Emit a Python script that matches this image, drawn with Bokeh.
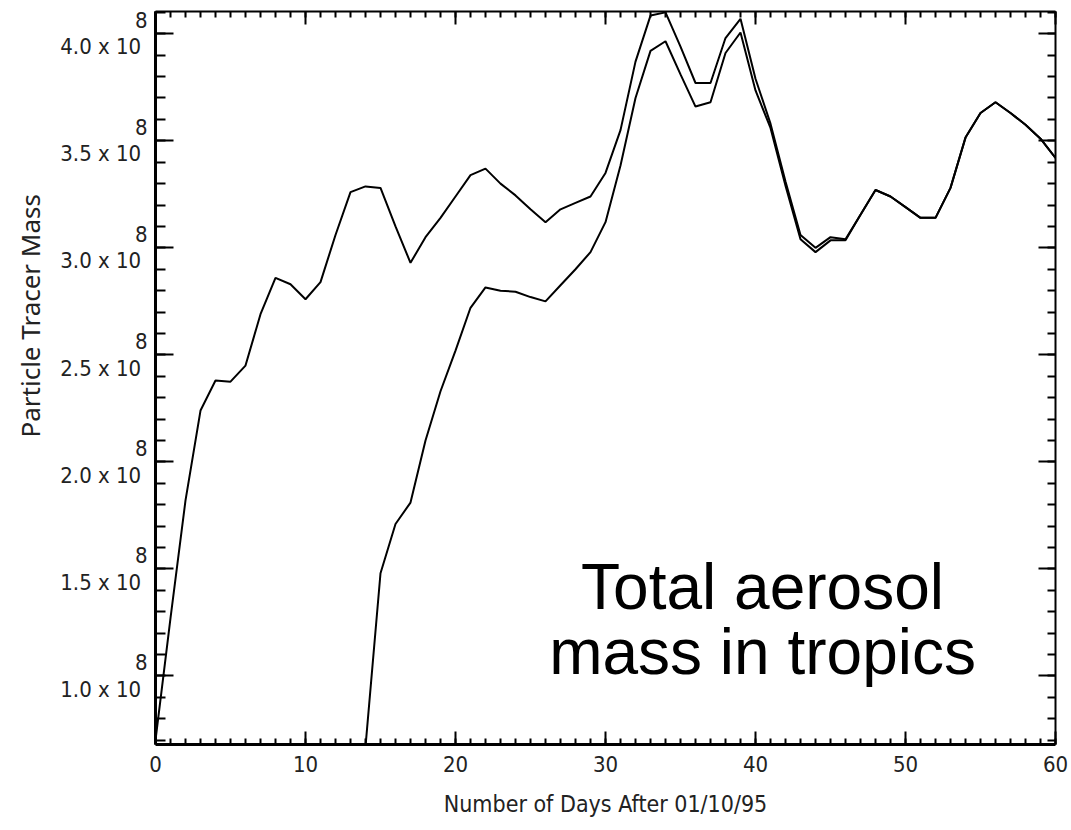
import math
from bokeh.plotting import figure
from bokeh.models import LinearAxis, FixedTicker, Range1d, Label, Title, CustomLabelingPolicy
from bokeh.embed import file_html
from bokeh.resources import INLINE

# ---- data (particle tracer mass, units of 10^8) ----
days_a = list(range(0, 61))
mass_a = [0.70, 1.27, 1.82, 2.24, 2.38, 2.375, 2.45, 2.69, 2.86, 2.83,
          2.76, 2.84, 3.06, 3.26, 3.287, 3.28, 3.10, 2.93, 3.05, 3.14,
          3.24, 3.34, 3.37, 3.30, 3.245, 3.18, 3.12, 3.18, 3.21, 3.24,
          3.35, 3.55, 3.87, 4.085, 4.10, 3.94, 3.77, 3.77, 3.98, 4.07,
          3.79, 3.58, 3.31, 3.06, 3.00, 3.05, 3.04, 3.155, 3.27, 3.24,
          3.19, 3.14, 3.14, 3.28, 3.515, 3.63, 3.68, 3.63, 3.575, 3.51,
          3.42]
days_b = list(range(14, 61))
mass_b = [0.67, 1.48, 1.71, 1.81, 2.10, 2.33,
          2.52, 2.72, 2.815, 2.80, 2.795, 2.77, 2.75, 2.825, 2.90, 2.98,
          3.12, 3.385, 3.70, 3.92, 3.965, 3.81, 3.66, 3.68, 3.91, 4.006,
          3.735, 3.56, 3.29, 3.04, 2.98, 3.035, 3.035, 3.155, 3.27, 3.24,
          3.19, 3.14, 3.14, 3.28, 3.515, 3.63, 3.68, 3.63, 3.575, 3.51,
          3.42]

x_ticks = [0, 10, 20, 30, 40, 50, 60]
x_tick_labels = ["0", "10", "20", "30", "40", "50", "60"]
x_minor = list(range(0, 61))
y_ticks = [1.0, 1.5, 2.0, 2.5, 3.0, 3.5, 4.0]
y_tick_labels = ["1.0 x 10", "1.5 x 10", "2.0 x 10", "2.5 x 10", "3.0 x 10", "3.5 x 10", "4.0 x 10"]
y_exponent = "8"
y_minor = [round(0.7 + 0.1 * i, 1) for i in range(35)]

x_title = "Number of Days After 01/10/95"
y_title = "Particle Tracer Mass"
note_lines = ["Total aerosol", "mass in tropics"]

TICK_FONT = "DejaVu Sans Condensed"
INK = "#222222"

p = figure(width=1071, height=830, x_range=Range1d(0, 60), y_range=Range1d(0.68, 4.104),
           output_backend="svg", toolbar_location=None,
           min_border_left=155, min_border_right=16, min_border_top=11, min_border_bottom=86,
           x_axis_type=None, y_axis_type=None)
p.xgrid.visible = False
p.ygrid.visible = False
p.outline_line_color = None
p.background_fill_color = "white"
p.border_fill_color = "white"

p.line(days_a, mass_a, line_color="black", line_width=2)
p.line(days_b, mass_b, line_color="black", line_width=2)

xt = FixedTicker(ticks=x_ticks, minor_ticks=x_minor)
yt = FixedTicker(ticks=y_ticks, minor_ticks=y_minor)

def style(ax, maj, mnr, lw):
    ax.major_tick_in = maj
    ax.major_tick_out = 0
    ax.minor_tick_in = mnr
    ax.minor_tick_out = 0
    ax.axis_line_width = lw
    ax.axis_line_color = "black"
    ax.major_tick_line_width = 2
    ax.minor_tick_line_width = 2
    ax.major_tick_line_color = "black"
    ax.minor_tick_line_color = "black"

no_labels = CustomLabelingPolicy(code="""
try {
  for (let i = 0; i < indices.size; i++) { indices.unset(i) }
} catch (e) {}
return indices
""")

bottom = LinearAxis(ticker=xt)
style(bottom, 13, 6, 3)
bottom.major_label_overrides = {t: s for t, s in zip(x_ticks, x_tick_labels)}
bottom.major_label_text_font = TICK_FONT
bottom.major_label_text_font_size = "22px"
bottom.major_label_text_color = INK
bottom.major_label_standoff = 11
bottom.axis_label = x_title
bottom.axis_label_text_font = TICK_FONT
bottom.axis_label_text_font_size = "23px"
bottom.axis_label_text_font_style = "normal"
bottom.axis_label_text_color = INK
bottom.axis_label_standoff = 16
p.add_layout(bottom, "below")

left = LinearAxis(ticker=yt)
style(left, 18, 10, 3)
left.major_label_overrides = {t: y_exponent + "\n" + s + "\u00a0" for t, s in zip(y_ticks, y_tick_labels)}
left.major_label_text_font = TICK_FONT
left.major_label_text_font_size = "22px"
left.major_label_text_line_height = 1.05
left.major_label_text_color = INK
left.major_label_standoff = 8
p.add_layout(left, "left")

top = LinearAxis(ticker=xt)
style(top, 13, 6, 2)
top.major_label_overrides = {t: "" for t in x_ticks}
top.major_label_text_font_size = "2px"
top.major_label_standoff = 0
top.major_label_policy = no_labels
p.add_layout(top, "above")

right = LinearAxis(ticker=yt)
style(right, 17, 8, 2)
right.major_label_overrides = {t: "" for t in y_ticks}
right.major_label_text_font_size = "2px"
right.major_label_standoff = 0
right.major_label_policy = no_labels
p.add_layout(right, "right")

p.add_layout(Title(text=y_title, align="left", offset=307, standoff=19,
                   text_font="Noto Sans", text_font_size="26px", text_font_style="normal",
                   text_color=INK), "left")

for txt, yy in zip(note_lines, [1.417, 1.113]):
    p.add_layout(Label(x=40.47, y=yy, text=txt, text_align="center", text_baseline="alphabetic",
                       text_font="Liberation Sans", text_font_size="64px", text_color="black"))

open("out.html", "w").write(file_html(p, INLINE))
